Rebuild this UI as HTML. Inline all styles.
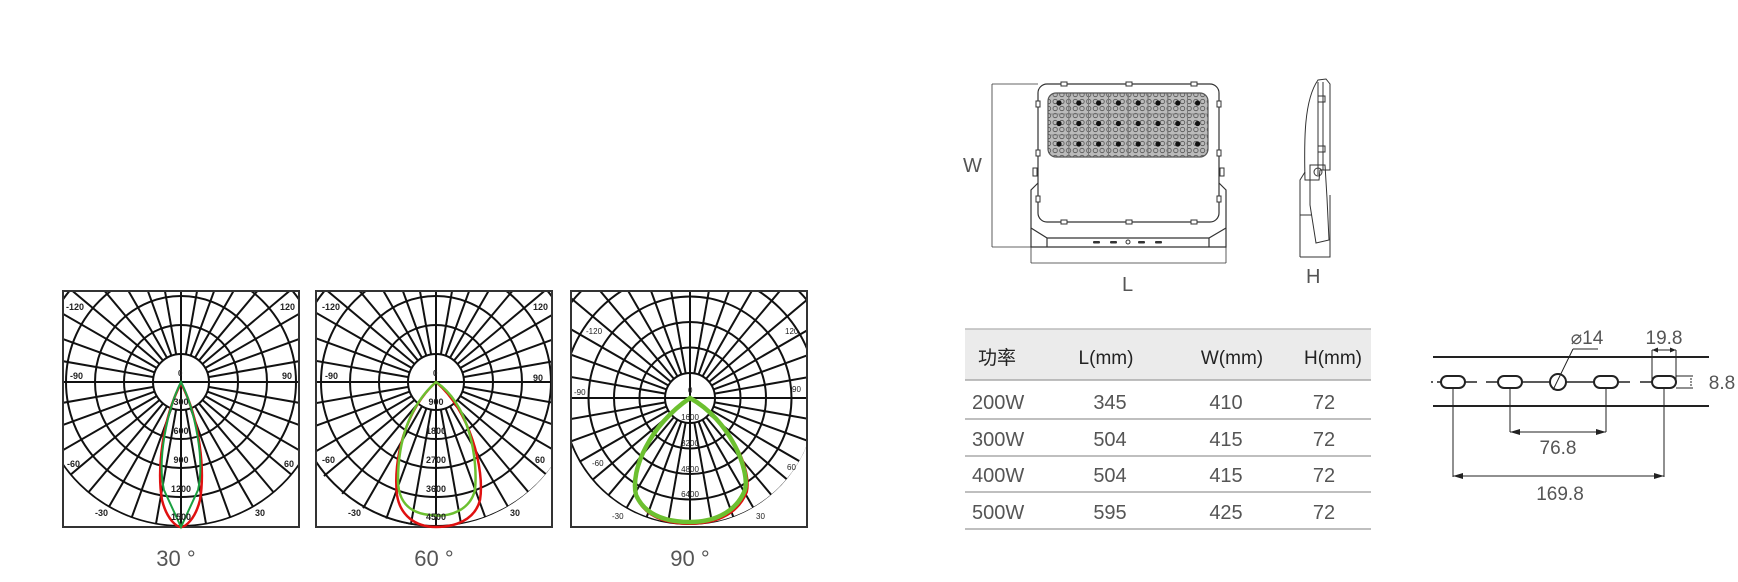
<!DOCTYPE html>
<html><head><meta charset="utf-8">
<style>
html,body{margin:0;padding:0;background:#fff;overflow:hidden;width:1738px;height:582px;}
svg#s{display:block;position:absolute;left:0;top:0;}
.t{font-family:"Liberation Sans","Noto Sans CJK SC",sans-serif;}
</style></head>
<body>
<svg id="s" width="1738" height="582" viewBox="0 0 1738 582" xmlns="http://www.w3.org/2000/svg">
<defs>
<pattern id="led" width="6.7" height="7" patternUnits="userSpaceOnUse">
<rect width="6.7" height="7" fill="#bbb"/>
<circle cx="3.3" cy="3.5" r="2.2" fill="none" stroke="#555" stroke-width="0.8"/>
</pattern>
</defs>
<svg x="63" y="291" width="236" height="236" viewBox="63 291 236 236" overflow="hidden"><g id="g1"></g>
<path d="M0,0 H2000 V1000 H0Z M63,291 H299 V466 A145,145 0 0 1 63,466 Z" fill="#fff" fill-rule="evenodd"/></svg>
<svg x="316" y="291" width="236" height="236" viewBox="316 291 236 236" overflow="hidden"><g id="g2"></g>
<path d="M0,0 H2000 V1000 H0Z M316,291 H552 V466 A145,145 0 0 1 316,466 Z" fill="#fff" fill-rule="evenodd"/></svg>
<svg x="571" y="291" width="236" height="236" viewBox="571 291 236 236" overflow="hidden"><g id="g3"></g>
<path d="M0,0 H2000 V1000 H0Z M571,291 H807 V445 A127,127 0 0 1 571,445 Z" fill="#fff" fill-rule="evenodd"/></svg>
<rect x="63" y="291" width="236" height="236" fill="none" stroke="#333" stroke-width="2"/>
<rect x="316" y="291" width="236" height="236" fill="none" stroke="#333" stroke-width="2"/>
<rect x="571" y="291" width="236" height="236" fill="none" stroke="#333" stroke-width="2"/>

<!-- curves -->
<path d="M181,383 C200,420 205,470 200,500 C195,520 185,527 181,527 C177,527 167,520 162,500 C157,470 162,420 181,383Z" fill="none" stroke="#e01010" stroke-width="2.5"/>
<path d="M181,382 C195,410 205,460 198,490 L181,527 L164,490 C157,460 167,410 181,382Z" fill="none" stroke="#1aa040" stroke-width="2"/>
<path d="M436,382 C470,410 485,470 480,500 C475,520 455,527 436,527 C415,527 400,515 397,495 C393,460 405,410 436,382Z" fill="none" stroke="#e01010" stroke-width="2.5"/>
<path d="M436,382 C470,405 478,460 475,490 C470,510 450,518 430,515 C408,513 398,500 398,480 C398,440 410,405 436,382Z" fill="none" stroke="#6cc030" stroke-width="2.5"/>
<path d="M690,398 C732,422 752,470 747,492 C737,517 712,524 690,524 C665,524 645,517 636,497 C630,472 650,425 690,398Z" fill="none" stroke="#e01010" stroke-width="2"/>
<path d="M690,398 C730,420 750,470 745,490 C735,515 710,522 690,522 C665,522 645,515 636,495 C630,470 650,425 690,398Z" fill="none" stroke="#6cc030" stroke-width="4.5"/>

<!-- chart labels -->
<g class="t" font-size="9" font-weight="bold" fill="#222">
<text x="66" y="310">-120</text><text x="280" y="310">120</text>
<text x="70" y="379">-90</text><text x="282" y="379">90</text>
<text x="67" y="467">-60</text><text x="284" y="467">60</text>
<text x="95" y="516">-30</text><text x="255" y="516">30</text>
<text x="178" y="376" font-size="8">0</text>
<g text-anchor="middle"><text x="181" y="405">300</text><text x="181" y="434">600</text><text x="181" y="463">900</text><text x="181" y="492">1200</text><text x="181" y="520">1500</text></g>
<text x="322" y="310">-120</text><text x="533" y="310">120</text>
<text x="325" y="379">-90</text><text x="533" y="381">90</text>
<text x="322" y="463">-60</text><text x="535" y="463">60</text>
<text x="348" y="516">-30</text><text x="510" y="516">30</text>
<text x="433" y="376" font-size="8">0</text>
<g text-anchor="middle"><text x="436" y="405">900</text><text x="436" y="434">1800</text><text x="436" y="463">2700</text><text x="436" y="492">3600</text><text x="436" y="520">4500</text></g>
<g font-size="8" font-weight="normal"><text x="586" y="334">-120</text><text x="785" y="334">120</text>
<text x="574" y="395">-90</text><text x="792" y="392">90</text>
<text x="592" y="466">-60</text><text x="787" y="470">60</text>
<text x="612" y="519">-30</text><text x="756" y="519">30</text>
<text x="688" y="393">0</text>
<g text-anchor="middle"><text x="690" y="420">1600</text><text x="690" y="446">3200</text><text x="690" y="472">4800</text><text x="690" y="497">6400</text></g></g>
</g>
<g class="t" font-size="22" fill="#555" text-anchor="middle">
<text x="176" y="566">30 °</text><text x="434" y="566">60 °</text><text x="690" y="566">90 °</text>
</g>

<!-- front view -->
<g fill="none" stroke="#333" stroke-width="1.2">
<rect x="1038" y="84" width="181" height="138" rx="9"/>
<rect x="1048" y="93" width="160" height="64" rx="8" fill="url(#led)" stroke="#555"/>
<path d="M1038,183 L1031,190 L1031,247 L1226,247 L1226,190 L1219,183"/>
<path d="M1031,228 L1047,238 L1047,247 M1047,238 L1209,238 L1226,228 M1209,238 L1209,247"/>
<line x1="992" y1="84" x2="1038" y2="84" stroke-width="0.8"/>
<line x1="992" y1="247" x2="1031" y2="247" stroke-width="0.8"/>
<line x1="992" y1="84" x2="992" y2="247" stroke-width="0.8"/>
<line x1="1031" y1="247" x2="1031" y2="263" stroke-width="0.8"/>
<line x1="1226" y1="247" x2="1226" y2="263" stroke-width="0.8"/>
<line x1="1031" y1="263" x2="1226" y2="263" stroke-width="0.8"/>
</g>
<g id="leds"></g>
<g fill="#fff" stroke="#333" stroke-width="1">
<rect x="1061" y="82" width="6" height="4"/><rect x="1126" y="82" width="6" height="4"/><rect x="1191" y="82" width="6" height="4"/>
<rect x="1061" y="220" width="6" height="4"/><rect x="1126" y="220" width="6" height="4"/><rect x="1191" y="220" width="6" height="4"/>
<rect x="1036" y="101" width="4" height="6"/><rect x="1036" y="150" width="4" height="6"/><rect x="1036" y="196" width="4" height="6"/>
<rect x="1217" y="101" width="4" height="6"/><rect x="1217" y="150" width="4" height="6"/><rect x="1217" y="196" width="4" height="6"/>
<rect x="1033" y="168" width="4" height="8"/><rect x="1220" y="168" width="4" height="8"/>
</g>
<g fill="#333"><rect x="1093" y="241" width="7" height="2.5" rx="1"/><rect x="1110" y="241" width="7" height="2.5" rx="1"/><circle cx="1128" cy="242" r="2" fill="none" stroke="#333"/><rect x="1138" y="241" width="7" height="2.5" rx="1"/><rect x="1155" y="241" width="7" height="2.5" rx="1"/></g>
<g class="t" font-size="20" fill="#555"><text x="963" y="172">W</text><text x="1122" y="291">L</text><text x="1306" y="283">H</text></g>

<!-- side view -->
<g fill="none" stroke="#333" stroke-width="1">
<path d="M1318,80 L1326,79 L1330,84 L1330,170 L1320,170 L1319,180 L1305,180 C1304,140 1304,100 1318,80Z"/>
<line x1="1318" y1="82" x2="1318" y2="175"/><line x1="1323" y1="82" x2="1323" y2="170"/>
<rect x="1318" y="96" width="7" height="6"/><rect x="1318" y="146" width="7" height="6"/>
<path d="M1310,165 L1325,165 L1327,198 L1329,240 L1316,243 L1310,205Z"/>
<circle cx="1318" cy="172" r="4"/>
<path d="M1300,257 L1300,180 L1305,172 M1300,257 L1330,257 L1330,195"/>
<line x1="1300" y1="215" x2="1312" y2="215"/>
</g>

<!-- table -->
<rect x="965" y="329" width="406" height="51" fill="#ebebeb"/>
<line x1="965" y1="329" x2="1371" y2="329" stroke="#bbb" stroke-width="1.5"/>
<g stroke="#aaa" stroke-width="1.5"><line x1="965" y1="380" x2="1371" y2="380"/><line x1="965" y1="419" x2="1371" y2="419"/><line x1="965" y1="456" x2="1371" y2="456"/><line x1="965" y1="492" x2="1371" y2="492"/><line x1="965" y1="529" x2="1371" y2="529"/></g>
<g class="t" font-size="19" fill="#222"><text x="978" y="364">功率</text>
<g text-anchor="middle"><text x="1106" y="364">L(mm)</text><text x="1232" y="364">W(mm)</text><text x="1333" y="364">H(mm)</text></g></g>
<g class="t" font-size="20" fill="#555">
<text x="972" y="409">200W</text><text x="972" y="446">300W</text><text x="972" y="482">400W</text><text x="972" y="519">500W</text>
<g text-anchor="middle">
<text x="1110" y="409">345</text><text x="1226" y="409">410</text><text x="1324" y="409">72</text>
<text x="1110" y="446">504</text><text x="1226" y="446">415</text><text x="1324" y="446">72</text>
<text x="1110" y="482">504</text><text x="1226" y="482">415</text><text x="1324" y="482">72</text>
<text x="1110" y="519">595</text><text x="1226" y="519">425</text><text x="1324" y="519">72</text>
</g></g>

<!-- mounting -->
<g fill="none" stroke="#222">
<line x1="1433" y1="357" x2="1709" y2="357" stroke-width="2"/>
<line x1="1433" y1="406" x2="1709" y2="406" stroke-width="2"/>
<path d="M1431,382 L1433,382 M1437,382 L1441,382 M1465,382 L1477,382 M1486,382 L1498,382 M1522,382 L1550,382 M1566,382 L1594,382 M1618,382 L1630,382 M1640,382 L1652,382" stroke-width="1.5"/>
<g stroke-width="2"><rect x="1441" y="376" width="24" height="12" rx="6"/><rect x="1498" y="376" width="24" height="12" rx="6"/><circle cx="1558" cy="382" r="8"/><rect x="1594" y="376" width="24" height="12" rx="6"/><rect x="1652" y="376" width="24" height="12" rx="6"/></g>
<g stroke-width="1">
<line x1="1453" y1="388" x2="1453" y2="477"/><line x1="1664" y1="388" x2="1664" y2="477"/>
<line x1="1510" y1="388" x2="1510" y2="432"/><line x1="1606" y1="388" x2="1606" y2="432"/>
<line x1="1510" y1="432" x2="1606" y2="432"/><line x1="1453" y1="476" x2="1664" y2="476"/>
<line x1="1652" y1="350" x2="1652" y2="382"/><line x1="1676" y1="350" x2="1676" y2="382"/>
<line x1="1652" y1="350" x2="1676" y2="350"/>
<line x1="1676" y1="376" x2="1693" y2="376"/><line x1="1676" y1="388" x2="1693" y2="388"/>
<line x1="1691" y1="378" x2="1691" y2="386" stroke-dasharray="2,1"/>
<line x1="1553" y1="390" x2="1573" y2="349"/><line x1="1573" y1="349" x2="1598" y2="349"/>
</g></g>
<g fill="#222"><path d="M1510,432 l10,-3 v6z M1606,432 l-10,-3 v6z M1453,476 l10,-3 v6z M1664,476 l-10,-3 v6z M1652,350 l6,-2.5 v5z M1676,350 l-6,-2.5 v5z"/></g>
<g class="t" font-size="19" fill="#555" text-anchor="middle">
<text x="1558" y="454">76.8</text><text x="1560" y="500">169.8</text><text x="1664" y="344">19.8</text><text x="1722" y="389">8.8</text><text x="1587" y="344">⌀14</text>
</g>
</svg>
<script>
var NS="http://www.w3.org/2000/svg";
function el(p,n,a){var e=document.createElementNS(NS,n);for(var k in a)e.setAttribute(k,a[k]);p.appendChild(e);return e;}
function chart(id,cx,cy,r0,step){
 var g=document.getElementById(id);
 var a={fill:"none",stroke:"#111","stroke-width":2};
 for(var i=0;i<8;i++){var c=el(g,"circle",a);c.setAttribute("cx",cx);c.setAttribute("cy",cy);c.setAttribute("r",r0+i*step);}
 for(var d=0;d<360;d+=10){
  var t=d*Math.PI/180;
  var l=el(g,"line",a);
  l.setAttribute("x1",cx+r0*Math.cos(t));l.setAttribute("y1",cy+r0*Math.sin(t));
  l.setAttribute("x2",cx+400*Math.cos(t));l.setAttribute("y2",cy+400*Math.sin(t));
 }
 var h=el(g,"line",a);h.setAttribute("x1",cx-200);h.setAttribute("x2",cx+200);h.setAttribute("y1",cy);h.setAttribute("y2",cy);
 var v=el(g,"line",a);v.setAttribute("x1",cx);v.setAttribute("x2",cx);v.setAttribute("y1",cy-r0);v.setAttribute("y2",cy+200);
}
chart("g1",181,382,28,29);
chart("g2",436,382,28,29);
chart("g3",690,398,25,25.5);
var lg=document.getElementById("leds");
for(var r=0;r<3;r++)for(var c=0;c<8;c++){
 el(lg,"circle",{cx:1059+c*19.8,cy:103+r*20.5,r:2.6,fill:"#111"});
 if(c>0)el(lg,"line",{x1:1049+c*19.8,x2:1049+c*19.8,y1:94,y2:156,stroke:"#777","stroke-width":0.8});
}
el(lg,"line",{x1:1049,x2:1207,y1:114,y2:114,stroke:"#777","stroke-width":0.8});
el(lg,"line",{x1:1049,x2:1207,y1:135,y2:135,stroke:"#777","stroke-width":0.8});
</script>
</body></html>
